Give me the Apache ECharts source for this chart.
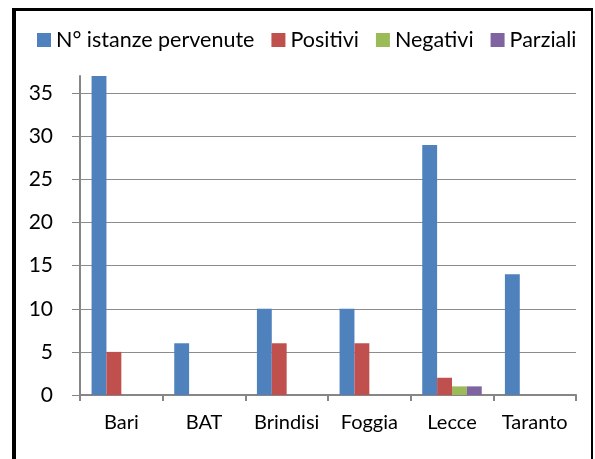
<!DOCTYPE html>
<html>
<head>
<meta charset="utf-8">
<script src="https://cdn.jsdelivr.net/npm/echarts@6/dist/echarts.min.js"></script>
<style>
  html, body { margin: 0; padding: 0; background: #fff; overflow: hidden; }
  #chart { width: 595px; height: 459px; }
  #frame {
    position: absolute; left: 12px; top: 8px; width: 575px; height: 500px;
    border-left: 4px solid #000; border-top: 3px solid #000; border-right: 2px solid #000;
    pointer-events: none;
  }
</style>
</head>
<body>
<div id="chart"></div>
<div id="frame"></div>
<script>
// dati
const province = ['Bari', 'BAT', 'Brindisi', 'Foggia', 'Lecce', 'Taranto'];
const istanze = [37, 6, 10, 10, 29, 14];
const positivi = [5, 0, 6, 6, 2, 0];
const negativi = [0, 0, 0, 0, 1, 0];
const parziali = [0, 0, 0, 0, 1, 0];
const yTicks = [0, 5, 10, 15, 20, 25, 30, 35];

const FONT = 'Lato';
const chart = echarts.init(document.getElementById('chart'));

function serie(name, data, color) {
    return {
        name: name,
        type: 'bar',
        data: data,
        barGap: '0%',
        barCategoryGap: '28%',
        itemStyle: { color: color },
        animation: false
    };
}

chart.setOption({
    backgroundColor: 'transparent',
    textStyle: { fontFamily: FONT },
    legend: {
        left: 32,
        top: 24,
        itemWidth: 14,
        itemHeight: 14,
        itemGap: 17,
        icon: 'rect',
        textStyle: { fontFamily: FONT, fontSize: 21.5, color: '#000' }
    },
    grid: { left: 80, right: 19, top: 76, bottom: 64 },
    xAxis: {
        type: 'category',
        data: province,
        axisLine: { lineStyle: { color: '#868686', width: 2 } },
        axisTick: { show: true, length: 6, interval: 0, lineStyle: { color: '#868686', width: 2 } },
        axisLabel: { fontFamily: FONT, fontSize: 20, color: '#000', margin: 18, interval: 0 }
    },
    yAxis: {
        type: 'value',
        min: 0,
        max: 37,
        interval: 5,
        axisLine: { show: true, lineStyle: { color: '#868686', width: 2 } },
        axisTick: { show: true, length: 8, customValues: yTicks, lineStyle: { color: '#868686', width: 1 } },
        axisLabel: { fontFamily: FONT, fontSize: 21, color: '#000', margin: 27, customValues: yTicks },
        splitLine: { show: true, lineStyle: { color: '#8c8c8c', width: 1 } }
    },
    series: [
        serie('N° istanze pervenute', istanze, '#4F81BD'),
        serie('Positivi', positivi, '#C0504D'),
        serie('Negativi', negativi, '#9BBB59'),
        serie('Parziali', parziali, '#8064A2')
    ]
});
</script>
</body>
</html>
